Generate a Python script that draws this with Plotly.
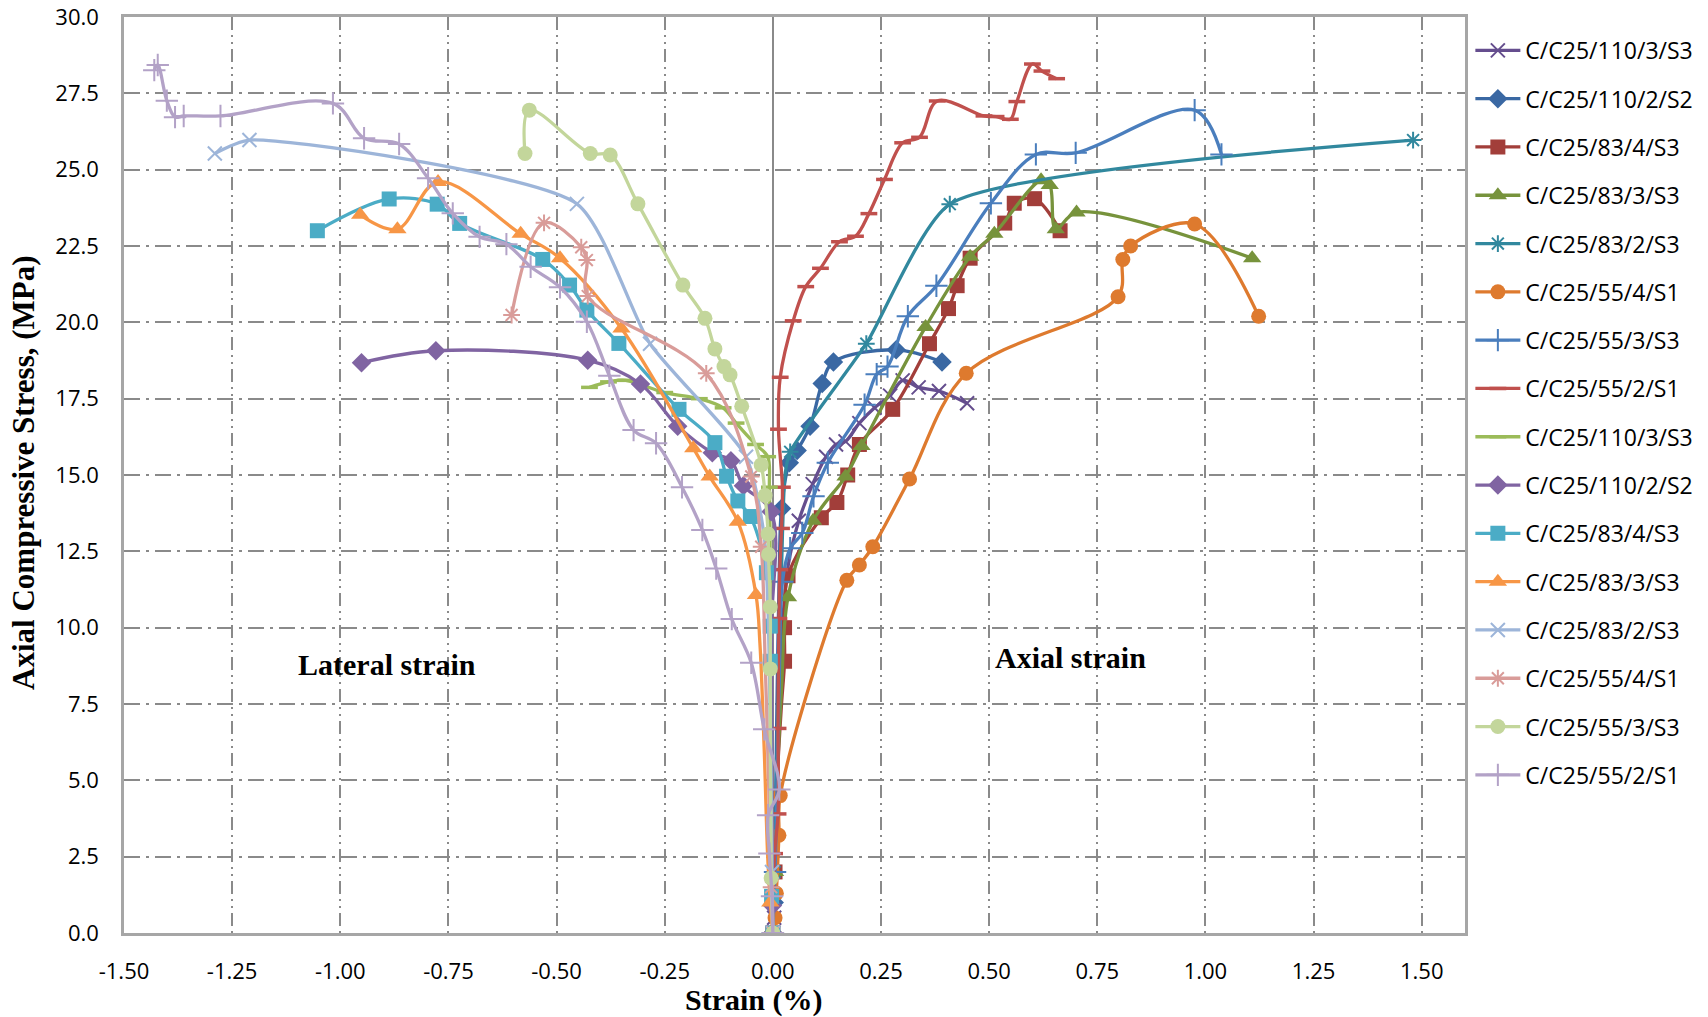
import plotly.graph_objects as go

names = ["C/C25/110/3/S3", "C/C25/110/2/S2", "C/C25/83/4/S3", "C/C25/83/3/S3",
         "C/C25/83/2/S3", "C/C25/55/4/S1", "C/C25/55/3/S3", "C/C25/55/2/S1",
         "C/C25/110/3/S3", "C/C25/110/2/S2", "C/C25/83/4/S3", "C/C25/83/3/S3",
         "C/C25/83/2/S3", "C/C25/55/4/S1", "C/C25/55/3/S3", "C/C25/55/2/S1"]

# ---- axial strain series ----
x_s1 = [0, 0.003, 0.006, 0.010, 0.018, 0.035, 0.060, 0.092, 0.123, 0.146, 0.168, 0.200, 0.235, 0.271, 0.300, 0.337, 0.384, 0.449]
y_s1 = [0, 0.5, 2.0, 5.0, 9.0, 12.0, 13.5, 14.7, 15.6, 16.0, 16.1, 16.7, 17.2, 17.6, 18.1, 17.87, 17.75, 17.35]

x_s2 = [0, 0.003, 0.006, 0.010, 0.015, 0.020, 0.038, 0.056, 0.086, 0.114, 0.140, 0.285, 0.391]
y_s2 = [0, 1.0, 4.0, 8.0, 12.0, 13.9, 15.4, 15.8, 16.6, 18.0, 18.7, 19.1, 18.7]

x_s3 = [0, 0.005, 0.010, 0.020, 0.027, 0.027, 0.035, 0.112, 0.148, 0.173, 0.200, 0.277, 0.362, 0.406, 0.426, 0.456, 0.536, 0.558, 0.605, 0.664]
y_s3 = [0, 2.0, 5.0, 7.5, 8.9, 10.0, 11.7, 13.6, 14.1, 15.0, 16.0, 17.15, 19.3, 20.45, 21.2, 22.1, 23.25, 23.9, 24.05, 23.0]

x_s4 = [0, 0.005, 0.010, 0.020, 0.035, 0.093, 0.168, 0.205, 0.353, 0.456, 0.512, 0.620, 0.640, 0.654, 0.702, 1.108]
y_s4 = [0, 2.0, 5.0, 8.0, 11.0, 13.5, 14.95, 15.95, 19.85, 22.15, 22.9, 24.65, 24.5, 23.05, 23.6, 22.1]

x_s5 = [0, 0.004, 0.008, 0.015, 0.022, 0.028, 0.040, 0.216, 0.409, 1.480]
y_s5 = [0, 2.0, 5.0, 9.0, 13.0, 15.0, 15.76, 19.3, 23.87, 25.97]

x_s6 = [0, 0.005, 0.008, 0.014, 0.017, 0.171, 0.200, 0.231, 0.316, 0.447, 0.798, 0.809, 0.827, 0.975, 1.123]
y_s6 = [0, 0.5, 1.3, 3.2, 4.5, 11.55, 12.05, 12.65, 14.87, 18.33, 20.84, 22.06, 22.5, 23.22, 20.2]

x_s7 = [0, 0.005, 0.010, 0.015, 0.022, 0.040, 0.068, 0.094, 0.127, 0.212, 0.240, 0.265, 0.312, 0.378, 0.504, 0.608, 0.700, 0.975, 1.037]
y_s7 = [0, 2.0, 5.0, 8.5, 11.5, 12.6, 13.1, 14.3, 15.4, 17.3, 18.3, 18.55, 20.2, 21.2, 23.9, 25.5, 25.55, 26.95, 25.5]

x_s8 = [0, 0.004, 0.012, 0.012, 0.014, 0.016, 0.020, 0.022, 0.013, 0.017, 0.047, 0.076, 0.110, 0.154, 0.191, 0.222, 0.258, 0.300, 0.339, 0.380, 0.488, 0.516, 0.549, 0.564, 0.600, 0.622, 0.656]
y_s8 = [0, 2.6, 3.9, 6.7, 10.3, 11.9, 13.25, 14.6, 16.5, 18.2, 20.05, 21.17, 21.77, 22.64, 22.82, 23.56, 24.68, 25.88, 26.06, 27.25, 26.76, 26.74, 26.65, 27.23, 28.46, 28.23, 27.98]

# ---- lateral strain series ----
x_s9 = [0, -0.002, -0.004, -0.006, -0.008, -0.012, -0.040, -0.085, -0.115, -0.170, -0.250, -0.340, -0.380, -0.424]
y_s9 = [0, 3.0, 7.0, 11.0, 14.6, 15.6, 16.0, 16.7, 17.2, 17.5, 17.7, 18.1, 18.05, 17.87]

x_s10 = [0, -0.001, -0.002, -0.003, -0.004, -0.068, -0.097, -0.140, -0.220, -0.306, -0.428, -0.779, -0.951]
y_s10 = [0, 0.9, 5.0, 10.0, 13.8, 14.65, 15.47, 15.73, 16.6, 17.98, 18.76, 19.07, 18.68]

x_s11 = [0, -0.003, -0.005, -0.006, -0.006, -0.015, -0.052, -0.081, -0.107, -0.134, -0.217, -0.356, -0.430, -0.470, -0.532, -0.724, -0.776, -0.887, -1.053]
y_s11 = [0, 1.2, 5.0, 8.9, 10.05, 11.8, 13.64, 14.15, 14.96, 16.06, 17.15, 19.31, 20.4, 21.22, 22.06, 23.24, 23.87, 24.04, 23.0]

x_s12 = [0, -0.006, -0.012, -0.020, -0.030, -0.039, -0.081, -0.146, -0.184, -0.350, -0.492, -0.583, -0.774, -0.868, -0.954]
y_s12 = [0, 1.0, 2.5, 6.0, 9.5, 11.07, 13.47, 14.95, 15.88, 19.8, 22.1, 22.9, 24.6, 23.05, 23.52]

x_s13 = [0, -0.002, -0.005, -0.010, -0.020, -0.062, -0.284, -0.453, -1.210, -1.290]
y_s13 = [0, 2.0, 6.0, 10.0, 13.0, 15.6, 19.3, 23.88, 25.97, 25.53]

x_s14 = [0, -0.004, -0.010, -0.018, -0.027, -0.050, -0.154, -0.428, -0.430, -0.443, -0.529, -0.604]
y_s14 = [0, 1.5, 5.0, 9.0, 12.65, 14.95, 18.33, 20.86, 22.04, 22.46, 23.26, 20.24]

x_s15 = [0, -0.004, -0.006, -0.006, -0.010, -0.011, -0.018, -0.027, -0.072, -0.099, -0.113, -0.134, -0.157, -0.208, -0.312, -0.376, -0.422, -0.563, -0.573]
y_s15 = [0, 1.8, 8.65, 10.68, 12.4, 13.07, 14.33, 15.33, 17.25, 18.28, 18.55, 19.13, 20.13, 21.22, 23.88, 25.48, 25.53, 26.95, 25.53]

x_s16 = [0, -0.002, -0.008, -0.011, 0.015, -0.020, -0.050, -0.095, -0.131, -0.163, -0.210, -0.270, -0.322, -0.378, -0.430, -0.492, -0.560, -0.616, -0.678, -0.740, -0.797, -0.864, -0.945, -1.017, -1.277, -1.362, -1.382, -1.401, -1.422, -1.430]
y_s16 = [0, 1.2, 2.6, 3.86, 4.7, 6.67, 8.85, 10.28, 11.94, 13.2, 14.6, 16.04, 16.47, 18.25, 20.02, 21.15, 21.82, 22.56, 22.8, 23.57, 24.72, 25.84, 26.03, 27.17, 26.76, 26.76, 26.72, 27.26, 28.43, 28.26]

series_x = [x_s1, x_s2, x_s3, x_s4, x_s5, x_s6, x_s7, x_s8, x_s9, x_s10, x_s11, x_s12, x_s13, x_s14, x_s15, x_s16]
series_y = [y_s1, y_s2, y_s3, y_s4, y_s5, y_s6, y_s7, y_s8, y_s9, y_s10, y_s11, y_s12, y_s13, y_s14, y_s15, y_s16]

x_tick_vals = [-1.5, -1.25, -1.0, -0.75, -0.5, -0.25, 0.0, 0.25, 0.5, 0.75, 1.0, 1.25, 1.5]
x_tick_text = ["-1.50", "-1.25", "-1.00", "-0.75", "-0.50", "-0.25", "0.00", "0.25", "0.50", "0.75", "1.00", "1.25", "1.50"]
y_tick_vals = [0, 2.5, 5, 7.5, 10, 12.5, 15, 17.5, 20, 22.5, 25, 27.5, 30]
y_tick_text = ["0.0", "2.5", "5.0", "7.5", "10.0", "12.5", "15.0", "17.5", "20.0", "22.5", "25.0", "27.5", "30.0"]

# ---- styles ----
colors = ["#654E8E", "#3A68A3", "#A23E3A", "#77933C", "#31889E", "#DE7A2E", "#4A7EBD", "#C0504D",
          "#9BBB59", "#8064A2", "#4BACC6", "#F79646", "#9DB5D9", "#D99C99", "#C3D69B", "#B3A2C7"]
symbols = ["x-thin", "diamond", "square", "triangle-up", "asterisk", "circle", "cross-thin", "line-ew",
           "line-ew", "diamond", "square", "triangle-up", "x-thin", "asterisk", "circle", "cross-thin"]
msizes = [14, 15, 15, 16, 14, 15, 16, 12, 12, 15, 15, 16, 14, 14, 15, 16]
mline = [2, 0, 0, 0, 2, 0, 2, 3.5, 3.5, 0, 0, 0, 2, 2, 0, 2]
smooth = [1.0, 1.0, 1.0, 1.0, 0.55, 1.0, 1.0, 1.0, 1.0, 1.0, 1.0, 1.0, 0.6, 1.0, 1.0, 1.0]
# points (by index) whose markers are hidden under the dense bundle near zero strain
hidden_markers = [[2, 3, 4, 5], [2, 3, 4], [2, 3], [2, 3], [2, 3, 4, 5], [], [2, 3], [],
                  [1, 2, 3], [2, 3], [2], [2, 3, 4], [2, 3, 4], [2, 3], [], []]
clear = "rgba(0,0,0,0)"

fig = go.Figure()
for i in range(16):
    c = colors[i]
    mcol = [clear if k in hidden_markers[i] else c for k in range(len(series_x[i]))]
    fig.add_trace(go.Scatter(
        x=series_x[i], y=series_y[i], name=names[i], mode="lines+markers",
        legendgroup="g%d" % i,
        line=dict(color=c, width=3.3, shape="spline", smoothing=smooth[i]),
        marker=dict(symbol=symbols[i], size=msizes[i], color=mcol,
                    line=dict(color=mcol, width=mline[i])),
    ))

serif = "Liberation Serif"
fig.update_layout(
    width=1708, height=1017,
    margin=dict(l=124, r=243, t=17, b=84, autoexpand=False),
    paper_bgcolor="white", plot_bgcolor="white",
    font=dict(family="Open Sans", size=22, color="black"),
    showlegend=True,
    legend=dict(x=1.004, y=0.987, xanchor="left", yanchor="top",
                font=dict(family="Open Sans", size=23, color="black"),
                tracegroupgap=15.4, itemwidth=45,
                bgcolor="rgba(0,0,0,0)", traceorder="grouped"),
    annotations=[
        dict(text="<b>Lateral strain</b>", x=-0.893, y=8.78, xref="x", yref="y",
             xanchor="center", yanchor="middle",
             showarrow=False, font=dict(family=serif, size=30, color="black")),
        dict(text="<b>Axial strain</b>", x=0.688, y=9.03, xref="x", yref="y",
             xanchor="center", yanchor="middle",
             showarrow=False, font=dict(family=serif, size=30, color="black")),
        dict(text="<b>Strain (%)</b>", x=0.4698, y=-0.0735, xref="paper", yref="paper",
             xanchor="center", yanchor="middle",
             showarrow=False, font=dict(family=serif, size=30, color="black")),
        dict(text="<b>Axial Compressive Stress, (MPa)</b>", x=-0.0746, y=0.5033,
             xref="paper", yref="paper", textangle=-90, xanchor="center", yanchor="middle",
             showarrow=False, font=dict(family=serif, size=31, color="black")),
    ],
)
fig.update_xaxes(
    range=[-1.5, 1.6], tickvals=x_tick_vals, ticktext=x_tick_text, automargin=False,
    showgrid=True, gridcolor="#8A8A8A", gridwidth=1.5, griddash="13px,5px,2px,5px,2px,5px",
    zeroline=True, zerolinecolor="#8A8A8A", zerolinewidth=1.5,
    showline=True, mirror=True, linecolor="#A6A6A6", linewidth=2.5,
    ticks="", ticklabelstandoff=17, tickfont=dict(family="Open Sans", size=22, color="black"),
)
fig.update_yaxes(
    range=[0, 30], tickvals=y_tick_vals, ticktext=y_tick_text, automargin=False,
    showgrid=True, gridcolor="#8A8A8A", gridwidth=1.5, griddash="16px,6px,3px,6px",
    zeroline=False,
    showline=True, mirror=True, linecolor="#A6A6A6", linewidth=2.5,
    ticks="", ticklabelstandoff=18, tickfont=dict(family="Open Sans", size=22, color="black"),
)

fig.write_html("out.html")
